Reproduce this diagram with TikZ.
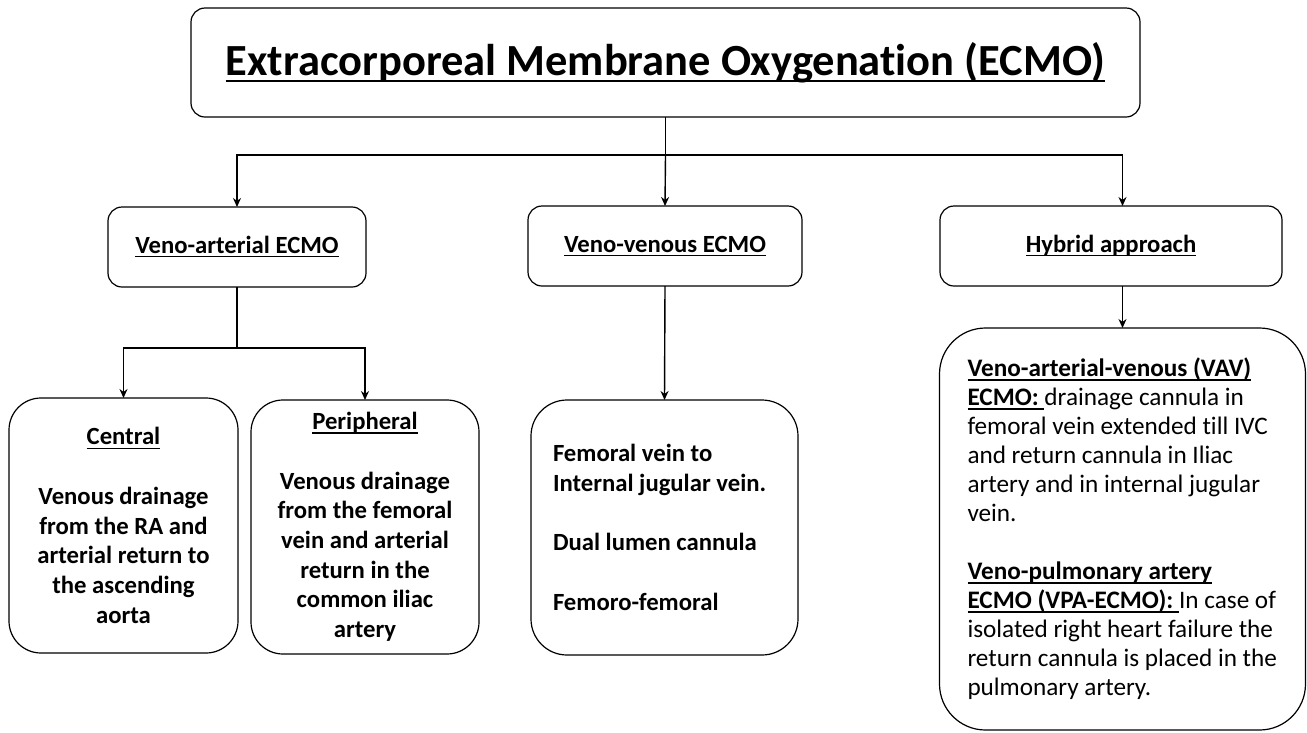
\documentclass[tikz,border=0pt]{standalone}
\usepackage{fontspec}
\setmainfont{Carlito}[Ligatures={NoCommon,NoRare,NoContextual}]
\usetikzlibrary{arrows.meta}
\newcommand{\uln}[1]{\setbox0\hbox{#1}\rlap{\vrule width \wd0 height -2.6pt depth 4.0pt}\box0}
\newcommand{\bigul}[1]{\setbox0\hbox{#1}\rlap{\vrule width \wd0 height -4.5pt depth 7.2pt}\box0}
\begin{document}
\begin{tikzpicture}[x=1pt,y=-1pt,
  box/.style={draw, line width=1.2pt, inner sep=0pt, outer sep=0pt},
  lbl/.style={box, rounded corners=14pt, minimum height=80pt, text height=17pt, text depth=5pt,
    font=\fontsize{24.7}{29.7}\selectfont\bfseries},
  arr/.style={line width=1.4pt, -{Stealth[length=9pt,width=8pt]}},
  ln/.style={line width=1.4pt}]
\useasboundingbox (0,0) rectangle (1307,732);
% boxes
\node[box, rounded corners=14pt, minimum width=949pt, minimum height=109pt,
  font=\fontsize{44.5}{50}\selectfont\bfseries] (top) at (665.5,62.5)
  {\bigul{Extracorporeal Membrane Oxygenation (ECMO)}};
\node[lbl, minimum width=258pt] (va) at (237,247) {\uln{Veno-arterial ECMO}};
\node[lbl, minimum width=274pt] (vv) at (665,246) {\uln{Veno-venous ECMO}};
\node[lbl, minimum width=342pt] (hy) at (1111,246) {\uln{Hybrid approach}};
\node[box, rounded corners=32pt, minimum width=229pt, minimum height=255pt, align=center,
  font=\fontsize{24.7}{29.7}\selectfont\bfseries] (cen) at (123.5,525.5)
  {\uln{Central}\\[29.7pt]Venous drainage\\from the RA and\\arterial return to\\the ascending\\aorta};
\node[box, rounded corners=32pt, minimum width=228pt, minimum height=254pt, align=center,
  font=\fontsize{24.7}{29.7}\selectfont\bfseries] (per) at (365,527)
  {\uln{Peripheral}\\[29.7pt]Venous drainage\\from the femoral\\vein and arterial\\return in the\\common iliac\\artery};
\node[box, rounded corners=36pt, minimum width=267pt, minimum height=255pt, text width=223pt, align=flush left,
  font=\fontsize{24.7}{29.7}\selectfont\bfseries] (fv) at (664.5,527.5)
  {Femoral vein to\\Internal jugular vein.\\[29.7pt]Dual lumen cannula\\[29.7pt]Femoro-femoral};
\node[box, rounded corners=46pt, minimum width=366pt, minimum height=402pt, text width=310pt, align=flush left,
  font=\fontsize{25.2}{29}\selectfont] (hc) at (1122.5,529)
  {\textbf{\uln{Veno-arterial-venous (VAV)}}\\\textbf{\uln{ECMO:~}}drainage cannula in\\femoral vein extended till IVC\\and return cannula in Iliac\\artery and in internal jugular\\vein.\\[29pt]\textbf{\uln{Veno-pulmonary artery}}\\\textbf{\uln{ECMO (VPA-ECMO):~}}In case of\\isolated right heart failure the\\return cannula is placed in the\\pulmonary artery.\par\vspace*{16pt}};
% connectors
\coordinate (j) at (top.south |- 0,155);
\coordinate (k) at (va.south |- 0,348);
\draw[ln] (top.south) -- (j);
\draw[arr] (j) -| (va.north);
\draw[arr] (j) -- (vv.north);
\draw[arr] (j) -| (hy.north -| hc.north);
\draw[ln] (va.south) -- (k);
\draw[arr] (k) -| (cen.north);
\draw[arr] (k) -| (per.north);
\draw[arr] (vv.south) -- (fv.north);
\draw[arr] (hy.south -| hc.north) -- (hc.north);
\end{tikzpicture}
\end{document}
